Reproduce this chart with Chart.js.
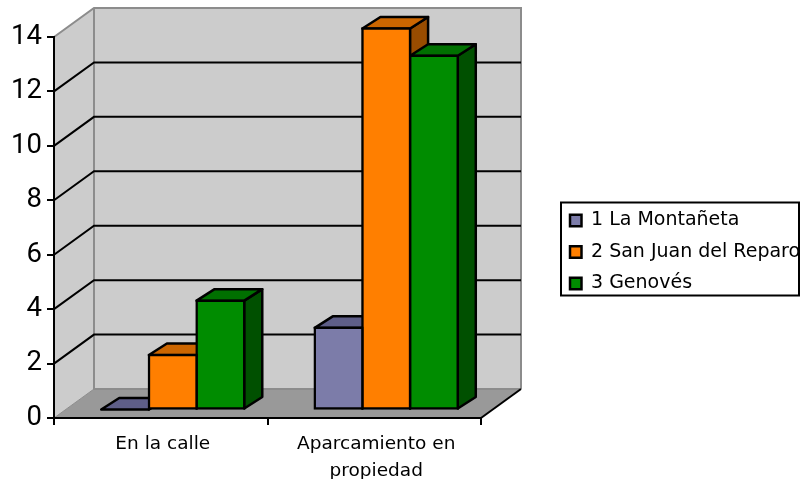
<!DOCTYPE html>
<html>
<head>
<meta charset="utf-8">
<title>Aparcamiento</title>
<script src="https://cdn.jsdelivr.net/npm/chart.js@4"></script>
<style>
  html, body { margin: 0; padding: 0; background: #fff; }
  canvas { display: block; }
</style>
</head>
<body>
<canvas id="chart" width="800" height="479"></canvas>
<script>
const categories = ['En la calle', ['Aparcamiento en', 'propiedad']];
const yTicks = [0, 2, 4, 6, 8, 10, 12, 14];
const montanetaValues = [0, 3];
const sanJuanValues = [2, 14];
const genovesValues = [4, 13];

// depth of the fake 3d box and of the bars
const WALL_DX = 40, WALL_DY = -29;
const BAR_SHIFT_X = 12, BAR_SHIFT_Y = -8.5;
const BAR_DX = 18, BAR_DY = -11.5;
const BAR_LINE = 2.5;

const faces = [
    { front: '#7c7ca9', top: '#5e5e88', side: '#4a4a6e' },
    { front: '#ff7f00', top: '#cc6600', side: '#994c00' },
    { front: '#008c00', top: '#007000', side: '#005000' },
];

function poly(ctx, pts, fill, stroke, width) {
    ctx.beginPath();
    pts.forEach((p, i) => i ? ctx.lineTo(p[0], p[1]) : ctx.moveTo(p[0], p[1]));
    ctx.closePath();
    if (fill) { ctx.fillStyle = fill; ctx.fill(); }
    if (stroke) { ctx.strokeStyle = stroke; ctx.lineWidth = width; ctx.stroke(); }
}

function line(ctx, pts, color, width) {
    ctx.beginPath();
    pts.forEach((p, i) => i ? ctx.lineTo(p[0], p[1]) : ctx.moveTo(p[0], p[1]));
    ctx.strokeStyle = color;
    ctx.lineWidth = width;
    ctx.stroke();
}

const box3d = {
    id: 'box3d',
    afterLayout(chart) {
        // put the legend where the original has it, bottom left loose so items stay in one column
        const l = chart.legend;
        l.left = 557.5; l.top = 198.5; l.right = 800; l.bottom = 340;
        l.width = 242.5; l.height = 141.5;
    },
    beforeDraw(chart) {
        const { ctx, chartArea: a, scales: { y } } = chart;
        const x0 = a.left, x1 = a.right, y0 = a.bottom, y1 = a.top;
        const bx0 = x0 + WALL_DX, bx1 = x1 + WALL_DX;
        const by0 = y0 + WALL_DY, by1 = y1 + WALL_DY;

        ctx.save();
        poly(ctx, [[x0, y0], [bx0, by0], [bx0, by1], [x0, y1]], '#cccccc');
        poly(ctx, [[bx0, by0], [bx1, by0], [bx1, by1], [bx0, by1]], '#cccccc');
        poly(ctx, [[x0, y0], [bx0, by0], [bx1, by0], [x1, y0]], '#999999');

        line(ctx, [[x0, y1], [bx0, by1], [bx1, by1], [bx1, by0]], '#8c8c8c', 2);
        line(ctx, [[bx0, by1], [bx0, by0], [bx1, by0]], '#8c8c8c', 2);
        line(ctx, [[x0, y0], [bx0, by0]], '#8c8c8c', 1);
        line(ctx, [[x1, y0], [bx1, by0]], '#000000', 2);

        yTicks.slice(1, -1).forEach(v => {
            const py = y.getPixelForValue(v);
            line(ctx, [[x0, py], [bx0, py + WALL_DY], [bx1, py + WALL_DY]], '#000000', 2);
        });

        // legend frame
        ctx.strokeStyle = '#000000';
        ctx.lineWidth = 2;
        ctx.strokeRect(561, 202.5, 238, 93);
        ctx.restore();
    },
    beforeDatasetsDraw(chart) {
        const { ctx } = chart;
        ctx.save();
        ctx.translate(BAR_SHIFT_X, BAR_SHIFT_Y);
        ctx.lineJoin = 'round';
        chart.data.datasets.forEach((ds, i) => {
            chart.getDatasetMeta(i).data.forEach(bar => {
                const l = bar.x - bar.width / 2, r = bar.x + bar.width / 2;
                const t = bar.y, b = bar.base;
                poly(ctx, [[r, b], [r + BAR_DX, b + BAR_DY], [r + BAR_DX, t + BAR_DY], [r, t]],
                    faces[i].side, '#000000', BAR_LINE);
                poly(ctx, [[l, t], [l + BAR_DX, t + BAR_DY], [r + BAR_DX, t + BAR_DY], [r, t]],
                    faces[i].top, '#000000', BAR_LINE);
            });
        });
    },
    afterDatasetsDraw(chart) {
        chart.ctx.restore();
    },
};

function makeDataset(label, values, i) {
    return {
        label: label,
        data: values,
        backgroundColor: faces[i].front,
        borderColor: '#000000',
        borderWidth: BAR_LINE,
        inflateAmount: BAR_LINE / 2,
        borderSkipped: false,
        clip: false,
    };
}

new Chart(document.getElementById('chart').getContext('2d'), {
    type: 'bar',
    plugins: [box3d],
    data: {
        labels: categories,
        datasets: [
            makeDataset('1 La Montañeta', montanetaValues, 0),
            makeDataset('2 San Juan del Reparo', sanJuanValues, 1),
            makeDataset('3 Genovés', genovesValues, 2),
        ],
    },
    options: {
        responsive: false,
        animation: false,
        events: [],
        layout: { autoPadding: false, padding: { top: 37, right: 319, left: 0, bottom: 0 } },
        datasets: { bar: { categoryPercentage: 0.67, barPercentage: 1 } },
        plugins: {
            tooltip: { enabled: false },
            legend: {
                position: 'chartArea',
                align: 'start',
                labels: {
                    boxWidth: 11.5,
                    boxHeight: 11.5,
                    padding: 12.5,
                    color: '#000000',
                    font: { family: 'DejaVu Sans', size: 19 },
                },
            },
        },
        scales: {
            x: {
                afterFit(scale) { scale.height = 61; },
                border: { color: '#000000', width: 2 },
                grid: { drawOnChartArea: false, drawTicks: true, tickLength: 7, color: '#000000', lineWidth: 2 },
                ticks: {
                    maxRotation: 0,
                    autoSkip: false,
                    padding: 6,
                    labelOffset: 2,
                    color: '#000000',
                    font: { family: 'DejaVu Sans', size: 18.5, lineHeight: 1.46 },
                },
            },
            y: {
                min: 0,
                max: 14,
                afterFit(scale) { scale.width = 54; },
                afterBuildTicks(scale) { scale.ticks = yTicks.map(v => ({ value: v })); },
                border: { color: '#000000', width: 2 },
                grid: { drawOnChartArea: false, drawTicks: true, tickLength: 7, color: '#000000', lineWidth: 2 },
                ticks: {
                    padding: 5,
                    color: '#000000',
                    font: { family: 'Roboto', size: 27.5, weight: 400 },
                },
            },
        },
    },
});
</script>
</body>
</html>
